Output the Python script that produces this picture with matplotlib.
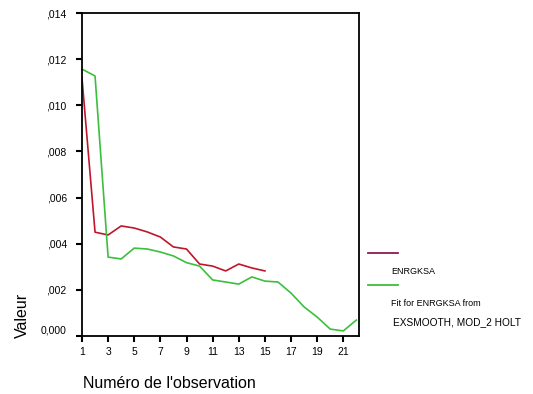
import matplotlib
matplotlib.use("Agg")
import matplotlib.pyplot as plt
from matplotlib.lines import Line2D
from matplotlib.ticker import FuncFormatter
from matplotlib.transforms import ScaledTranslation

# observed series (obs 1..15) and exponential-smoothing fit (obs 1..22)
obs_red = list(range(1, 16))
enrgksa = [0.01118, 0.00450, 0.00438, 0.00477, 0.00468, 0.00451, 0.00429,
           0.00386, 0.00377, 0.00312, 0.00303, 0.00282, 0.00312, 0.00295,
           0.00282]
obs_fit = list(range(1, 23))
fit_vals = [0.01157, 0.01127, 0.00342, 0.00334, 0.00381, 0.00377, 0.00364,
            0.00347, 0.00318, 0.00303, 0.00243, 0.00234, 0.00225, 0.00256,
            0.00238, 0.00234, 0.00186, 0.00126, 0.00082, 0.00030, 0.00022,
            0.00069]
xticks = list(range(1, 22, 2))
yticks = [0.0, 0.002, 0.004, 0.006, 0.008, 0.010, 0.012, 0.014]

RED = "#c0162c"
GREEN = "#3cbf3c"
FONT = "Liberation Sans"


def ylab(v, _pos=None):
    if v == 0:
        return "0,000"
    return f"{v:.3f}".replace("0.", ",", 1)


fig = plt.figure(figsize=(5.33, 3.94), dpi=100)
ax = fig.add_axes([0.1538, 0.1472, 0.5197, 0.8198])

ax.plot(obs_red, enrgksa, color=RED, lw=1.2)
ax.plot(obs_fit, fit_vals, color=GREEN, lw=1.2)

ax.set_xlim(1, 22.2)
ax.set_ylim(0, 0.014)
ax.set_xticks(xticks)
ax.set_yticks(yticks)
ax.yaxis.set_major_formatter(FuncFormatter(ylab))
ax.tick_params(direction="out", length=4, width=1.5, labelsize=7.5)
ax.tick_params(axis="y", pad=7)
ax.tick_params(axis="x", pad=4)
for lab in ax.get_xticklabels() + ax.get_yticklabels():
    lab.set_family(FONT)
for s in ax.spines.values():
    s.set_linewidth(1.3)

# SPSS puts the zero label a little above the axis line
zero = ax.get_yticklabels()[0]
zero.set_transform(zero.get_transform()
                   + ScaledTranslation(0, 7 / 100, fig.dpi_scale_trans))

fig.text(169 / 533, 1 - 383 / 394, "Numéro de l'observation", family=FONT,
         fontsize=11.5, ha="center", va="center")
fig.text(22 / 533, 1 - 315 / 394, "Valeur", family=FONT, fontsize=11.5,
         rotation=90, ha="center", va="center")

# legend, SPSS style: line sample above each label
fig.add_artist(Line2D([368 / 533, 398 / 533], [1 - 253 / 394] * 2,
                      color="#8a1a55", lw=1.3))
fig.text(391 / 533, 1 - 272 / 394, "ENRGKSA", family=FONT, fontsize=6.5,
         va="center")
fig.add_artist(Line2D([368 / 533, 398 / 533], [1 - 285 / 394] * 2,
                      color=GREEN, lw=1.3))
fig.text(391 / 533, 1 - 303 / 394, "Fit for ENRGKSA from", family=FONT,
         fontsize=6.5, va="center")
fig.text(393 / 533, 1 - 322 / 394, "EXSMOOTH, MOD_2 HOLT", family=FONT,
         fontsize=7.3, va="center")

fig.savefig("out.png", dpi=100)
